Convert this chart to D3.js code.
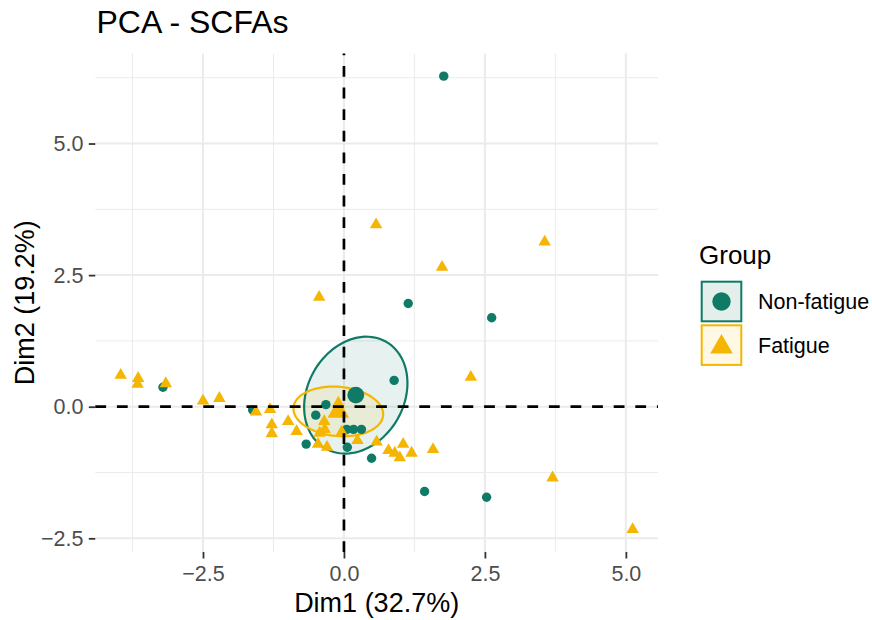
<!DOCTYPE html>
<html>
<head>
<meta charset="utf-8">
<script src="https://cdn.jsdelivr.net/npm/d3@7"></script>
<style>
  html, body { margin: 0; padding: 0; background: #ffffff; }
  svg { display: block; font-family: "Liberation Sans", Arial, Helvetica, sans-serif; }
</style>
</head>
<body>
<svg id="chart" width="872" height="620"></svg>
<script>
// ---------------- DATA ----------------
const groups = ["Non-fatigue", "Fatigue"];
const groupColors = ["#0F7A66", "#F4B602"];
const groupFills = ["#E4EFEC", "#FEF8E5"];

// Non-fatigue individuals (Dim1, Dim2)
const nonFatigueDim1 = [1.77, 1.14, 2.62, 0.89, -3.21, -1.62, -0.32, -0.50, -0.67, 0.06, 0.49, 1.43, 2.53, 0.05, 0.17, 0.31];
const nonFatigueDim2 = [6.28, 1.96, 1.69, 0.50, 0.37, -0.06, 0.04, -0.16, -0.71, -0.77, -0.98, -1.61, -1.72, -0.43, -0.43, -0.43];

// Fatigue individuals (Dim1, Dim2)
const fatigueDim1 = [-3.96, -3.65, -3.66, -3.16, -2.50, -2.21, -1.56, -1.31, -1.28, -1.28, -0.99, -0.84, -0.35, -0.10, -0.13, -0.34, -0.04, -0.43, -0.46, -0.30, 0.24, 0.58, 0.79, 1.05, 0.90, 1.20, 0.99, 1.58, 3.70, 5.12, 2.25, 0.57, 3.56, 1.74, -0.44];
const fatigueDim2 = [0.60, 0.54, 0.43, 0.44, 0.11, 0.16, -0.10, -0.05, -0.34, -0.51, -0.28, -0.47, -0.28, 0.07, -0.10, -0.43, -0.48, -0.50, -0.71, -0.77, -0.64, -0.67, -0.83, -0.71, -0.88, -0.88, -0.97, -0.81, -1.35, -2.33, 0.56, 3.46, 3.13, 2.65, 2.08];

// Group centroids (mean points)
const centroidDim1 = [0.21, -0.10];
const centroidDim2 = [0.22, -0.09];

// Confidence ellipses: semi-axis vectors in data units
const ellipseMajorDim1 = [0.539, 0.795];
const ellipseMajorDim2 = [1.013, -0.075];
const ellipseMinorDim1 = [0.741, -0.037];
const ellipseMinorDim2 = [-0.454, -0.466];

const xTicks = [-2.5, 0, 2.5, 5];
const yTicks = [-2.5, 0, 2.5, 5];
const xMinor = [-3.75, -1.25, 1.25, 3.75];
const yMinor = [-1.25, 1.25, 3.75, 6.25];
const xDomain = [-4.41, 5.57];
const yDomain = [-2.76, 6.71];

const titleText = "PCA - SCFAs";
const xTitle = "Dim1 (32.7%)";
const yTitle = "Dim2 (19.2%)";
const legendTitle = "Group";

// ---------------- LAYOUT ----------------
const svg = d3.select("#chart");
const plot = { left: 95.3, right: 658, top: 53.5, bottom: 552 };
const x = d3.scaleLinear().domain(xDomain).range([plot.left, plot.right]);
const y = d3.scaleLinear().domain(yDomain).range([plot.bottom, plot.top]);

const gridColor = "#EBEBEB";

// grid
const grid = svg.append("g");
grid.selectAll(".xmin").data(xMinor).join("line")
  .attr("x1", d => x(d)).attr("x2", d => x(d))
  .attr("y1", plot.top).attr("y2", plot.bottom)
  .attr("stroke", gridColor).attr("stroke-width", 1);
grid.selectAll(".ymin").data(yMinor).join("line")
  .attr("y1", d => y(d)).attr("y2", d => y(d))
  .attr("x1", plot.left).attr("x2", plot.right)
  .attr("stroke", gridColor).attr("stroke-width", 1);
grid.selectAll(".xmaj").data(xTicks).join("line")
  .attr("x1", d => x(d)).attr("x2", d => x(d))
  .attr("y1", plot.top).attr("y2", plot.bottom)
  .attr("stroke", gridColor).attr("stroke-width", 2);
grid.selectAll(".ymaj").data(yTicks).join("line")
  .attr("y1", d => y(d)).attr("y2", d => y(d))
  .attr("x1", plot.left).attr("x2", plot.right)
  .attr("stroke", gridColor).attr("stroke-width", 2);

// axes
const fmt = d3.format(".1f");
const xAxis = svg.append("g")
  .attr("transform", `translate(0,${plot.bottom})`)
  .call(d3.axisBottom(x).tickValues(xTicks).tickFormat(fmt).tickSizeInner(6.5).tickSizeOuter(0).tickPadding(7));
const yAxis = svg.append("g")
  .attr("transform", `translate(${plot.left},0)`)
  .call(d3.axisLeft(y).tickValues(yTicks).tickFormat(fmt).tickSizeInner(6.5).tickSizeOuter(0).tickPadding(5.3));
[xAxis, yAxis].forEach(a => {
  a.select(".domain").remove();
  a.selectAll(".tick line").attr("stroke", "#333333").attr("stroke-width", 1.8);
  a.selectAll(".tick text").attr("fill", "#4D4D4D").style("font-size", "21.5px")
    .style("font-family", '"Liberation Sans", Arial, Helvetica, sans-serif');
});

// ellipses
const ellG = svg.append("g");
groups.forEach((g, i) => {
  const pts = d3.range(0, 101).map(k => {
    const t = k / 100 * 2 * Math.PI;
    const dx = centroidDim1[i] + ellipseMajorDim1[i] * Math.cos(t) + ellipseMinorDim1[i] * Math.sin(t);
    const dy = centroidDim2[i] + ellipseMajorDim2[i] * Math.cos(t) + ellipseMinorDim2[i] * Math.sin(t);
    return [x(dx), y(dy)];
  });
  ellG.append("path")
    .attr("d", d3.line()(pts) + "Z")
    .attr("fill", groupColors[i]).attr("fill-opacity", 0.1)
    .attr("stroke", "none");
});
groups.forEach((g, i) => {
  const pts = d3.range(0, 101).map(k => {
    const t = k / 100 * 2 * Math.PI;
    const dx = centroidDim1[i] + ellipseMajorDim1[i] * Math.cos(t) + ellipseMinorDim1[i] * Math.sin(t);
    const dy = centroidDim2[i] + ellipseMajorDim2[i] * Math.cos(t) + ellipseMinorDim2[i] * Math.sin(t);
    return [x(dx), y(dy)];
  });
  ellG.append("path")
    .attr("d", d3.line()(pts) + "Z")
    .attr("fill", "none")
    .attr("stroke", groupColors[i]).attr("stroke-width", 2.2);
});

// triangle path centred on its centroid (R pch 17 style)
function tri(cx, cy, r) {
  const h = r * Math.sqrt(3) / 2;
  return `M${cx},${cy - r}L${cx + h},${cy + r / 2}L${cx - h},${cy + r / 2}Z`;
}

// points
const ptG = svg.append("g");
const nf = nonFatigueDim1.map((v, i) => [v, nonFatigueDim2[i]]);
const fa = fatigueDim1.map((v, i) => [v, fatigueDim2[i]]);
ptG.selectAll(".nf").data(nf).join("circle")
  .attr("cx", d => x(d[0])).attr("cy", d => y(d[1])).attr("r", 4.7)
  .attr("fill", groupColors[0]);
ptG.selectAll(".fa").data(fa).join("path")
  .attr("d", d => tri(x(d[0]), y(d[1]), 7.2))
  .attr("fill", groupColors[1]);

// centroids
ptG.append("circle")
  .attr("cx", x(centroidDim1[0])).attr("cy", y(centroidDim2[0])).attr("r", 8.4)
  .attr("fill", groupColors[0]);
ptG.append("path")
  .attr("d", tri(x(centroidDim1[1]), y(centroidDim2[1]), 12.5))
  .attr("fill", groupColors[1]);

// dashed reference lines
svg.append("line")
  .attr("x1", plot.left).attr("x2", plot.right)
  .attr("y1", y(0)).attr("y2", y(0))
  .attr("stroke", "#000").attr("stroke-width", 2.7).attr("stroke-dasharray", "10.8,10.8");
svg.append("line")
  .attr("x1", x(0)).attr("x2", x(0))
  .attr("y1", plot.bottom).attr("y2", plot.top)
  .attr("stroke", "#000").attr("stroke-width", 2.7).attr("stroke-dasharray", "10.8,10.8");

// titles
svg.append("text").attr("x", 96.5).attr("y", 33)
  .style("font-size", "32px").attr("fill", "#000").text(titleText);
svg.append("text").attr("x", (plot.left + plot.right) / 2).attr("y", 612)
  .attr("text-anchor", "middle").style("font-size", "27px").attr("fill", "#000").text(xTitle);
svg.append("text")
  .attr("transform", `translate(34,${(plot.top + plot.bottom) / 2}) rotate(-90)`)
  .attr("text-anchor", "middle").style("font-size", "27px").attr("fill", "#000").text(yTitle);

// legend
const leg = svg.append("g");
leg.append("text").attr("x", 699).attr("y", 263.5)
  .style("font-size", "26px").attr("fill", "#000").text(legendTitle);
const keyY = [280.7, 324.3];
groups.forEach((g, i) => {
  leg.append("rect")
    .attr("x", 701.7).attr("y", keyY[i] + 1).attr("width", 39.6).attr("height", 39.6)
    .attr("fill", groupFills[i]).attr("stroke", groupColors[i]).attr("stroke-width", 2);
  const cx = 721.5, cy = keyY[i] + 20.8;
  if (i === 0) {
    leg.append("circle").attr("cx", cx).attr("cy", cy).attr("r", 9.2).attr("fill", groupColors[i]);
  } else {
    leg.append("path").attr("d", tri(cx, cy + 2, 13)).attr("fill", groupColors[i]);
  }
  leg.append("text").attr("x", 758).attr("y", cy + 7.8)
    .style("font-size", "21.5px").attr("fill", "#000").text(g);
});
</script>
</body>
</html>
